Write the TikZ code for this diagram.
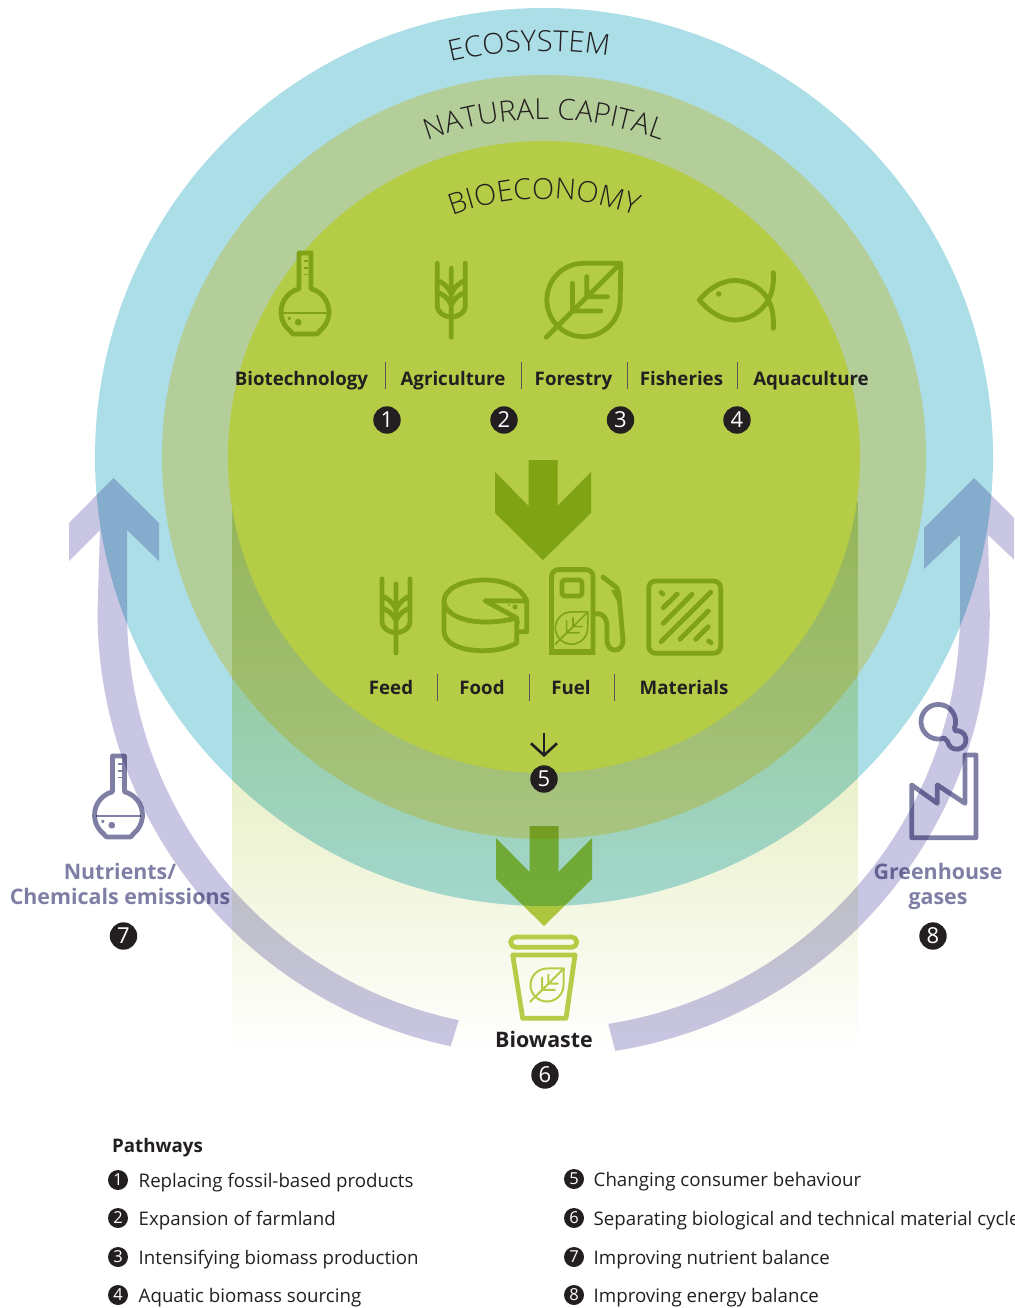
\documentclass[tikz,border=0pt]{standalone}
\usepackage{fontspec}
\setmainfont{Open Sans}
\newfontfamily\lightfont{Open Sans Light}
\usetikzlibrary{arrows.meta,decorations.text,fadings}

\definecolor{ecocol}{HTML}{ABDEE7}
\definecolor{natcol}{HTML}{B4CE9A}
\definecolor{biocol}{HTML}{B4CC46}
\definecolor{iconcol}{HTML}{7FA314}
\definecolor{bandcol}{HTML}{C9C6E3}
\definecolor{lavcol}{HTML}{7F7FA6}
\definecolor{inkcol}{HTML}{231F20}

\tikzfading[name=lowfade,top color=transparent!42,bottom color=transparent!100]

\tikzset{
	every pic/.style={yscale=-1},
	badge node/.style={shape=circle,fill=inkcol,text=white,inner sep=0pt,minimum size=27.4pt,font=\fontsize{22}{22}\selectfont},
	key node/.style={shape=circle,fill=inkcol,text=white,inner sep=0pt,minimum size=20pt,font=\fontsize{16.5}{16.5}\selectfont},
	sector node/.style={text=inkcol,inner sep=0pt,anchor=base,font=\fontsize{18.7}{23}\selectfont\bfseries},
	key text/.style={text=inkcol,inner sep=0pt,anchor=base west,font=\fontsize{18.7}{23}\selectfont},
	side text/.style={text=lavcol,inner sep=0pt,align=center,font=\fontsize{21.4}{25}\selectfont\bfseries},
	divider/.style={draw=inkcol!75,line width=.8pt},
	icon/.style={draw=iconcol,line width=4.8pt,line cap=round,line join=round},
	side icon/.style={draw=lavcol,line width=4.8pt,line cap=round,line join=round},
	ring text/.style={decorate,decoration={text along path,text align=center,text={#1}}},
	pics/flask/.style={code={
		\path[pic actions] (-6,0) -- (-6,35.8) arc[start angle=255.5,end angle=130,radius=24pt]
			-- (-12,81) -- (12,81) -- (15.4,77.4) arc[start angle=50,end angle=-75.5,radius=24pt]
			-- (6,0) -- cycle;
		\path[pic actions,line width=1.5pt,line cap=butt] (-22.5,60) -- (22.5,60)
			(-1,8) -- (3,8) (-1,15) -- (3,15) (-1,21.5) -- (3,21.5);
		\path[pic actions,line width=3.7pt] (-6.7,69.3) circle[radius=1.85pt];
		\path[pic actions,line width=1.7pt] (-15.7,65.3) circle[radius=.85pt];
	}},
	pics/wheat/.style={code={
		\path[pic actions] (0,0) -- (0,69)
			(-14,-5) -- (-14,37) .. controls (-14,45) and (-7,48) .. (0,49)
			(14,-5) -- (14,37) .. controls (14,45) and (7,48) .. (0,49)
			(-14,12) .. controls (-9,14) and (-3,18) .. (0,26)
			(14,12) .. controls (9,14) and (3,18) .. (0,26)
			(-14,24) .. controls (-8,26) and (-3,30) .. (0,37)
			(14,24) .. controls (8,26) and (3,30) .. (0,37);
	}},
	pics/leaf/.style={code={
		\path[pic actions] (37.3,-36.7) -- (0,-36.7) arc[start angle=270,end angle=90,radius=36.7pt]
			arc[start angle=90,end angle=0,radius=36.7pt] -- cycle
			(37.3,-36.7) -- (-37.3,37.3)
			(-11,-16.7) -- (-11,11) -- (17.3,11)
			(3.3,-23.3) -- (3.3,-3.3) -- (24,-3.3);
	}},
	pics/downarrow/.style={code={
		\fill[biocol,blend mode=multiply] (0,0) -- (-48,-47) -- (-48,-88) -- (-14.5,-54) -- (-14.5,-100)
			-- (14.5,-100) -- (14.5,-54) -- (48,-88) -- (48,-47) -- cycle;
	}},
}

\begin{document}
\begin{tikzpicture}[x=1pt,y=1pt,yscale=-1]
	\useasboundingbox (0,0) rectangle (1014,1308);
	\clip (0,0) rectangle (1014,1308);

	% rings
	\coordinate (centre) at (544,457);
	\fill[ecocol] (centre) circle[radius=449pt];
	\fill[natcol] (centre) circle[radius=382pt];
	\fill[biocol,blend mode=multiply,path fading=lowfade] (232,500) rectangle (858,1055);
	\fill[biocol] (centre) circle[radius=316pt];

	% side bands
	\fill[bandcol,blend mode=multiply] (113.5,478) -- (159,523) -- (159,561) -- (127,530) -- (127,612)
		arc[start angle=180,end angle=101.8,radius=417pt]
		-- ++(-8,26) arc[start angle=101.8,end angle=180,radius=444pt]
		-- (100,530) -- (69,561) -- (69,523) -- cycle;
	\fill[bandcol,blend mode=multiply] (974,478) -- (924,528) -- (924,569) -- (960,535) -- (960,612)
		arc[start angle=0,end angle=81,radius=417pt]
		-- ++(7,27) arc[start angle=81,end angle=0,radius=444pt]
		-- (988,535) -- (1024,569) -- (1024,528) -- cycle;

	% ring titles
	\begin{scope}[yscale=-1]
		\coordinate (textcentre) at (544,-457);
		\path[ring text={|\color{inkcol}\lightfont\fontsize{29}{29}\selectfont|ECOSYSTEM}]
			([shift={(122.1:406pt)}]textcentre) arc[start angle=122.1,end angle=62.1,radius=406pt];
		\path[ring text={|\color{inkcol}\lightfont\fontsize{29}{29}\selectfont|NATURAL CAPITAL}]
			([shift={(124.9:337.5pt)}]textcentre) arc[start angle=124.9,end angle=54.9,radius=337.5pt];
		\path[ring text={|\color{inkcol}\lightfont\fontsize{29}{29}\selectfont|BIOECONOMY}]
			([shift={(125:258pt)}]textcentre) arc[start angle=125,end angle=55,radius=258pt];
	\end{scope}

	% sector icons
	\pic[icon] at (305,253) {flask};
	\pic[icon] at (451.3,268.3) {wheat};
	\pic[icon] at (583.5,300) {leaf};
	\draw[icon] (699.3,300) .. controls (712,285) and (725,280.5) .. (735,280.5)
		.. controls (748,280.5) and (762,288) .. (768.3,300)
		.. controls (762,312) and (748,320) .. (735,320)
		.. controls (725,320) and (712,315) .. (699.3,300)
		(773.3,272.7) .. controls (774,285) and (772,293) .. (768.3,300)
		.. controls (772,307) and (774,316) .. (773.3,328.3);
	\fill[iconcol] (718.7,294) circle[radius=2.7pt];

	% sector labels
	\node[sector node] (bio) at (301.5,385.5) {Biotechnology};
	\node[sector node] (agr) at (453,385.5) {Agriculture};
	\node[sector node] (for) at (573.5,385.5) {Forestry};
	\node[sector node] (fis) at (681.5,385.5) {Fisheries};
	\node[sector node] (aqu) at (811,385.5) {Aquaculture};
	\foreach \x in {385,521,627,737}
		\draw[divider] (\x,362) -- (\x,389);

	\node[badge node] (n1) at (387,420) {1};
	\node[badge node] (n2) at (504,420) {2};
	\node[badge node] (n3) at (620.5,420) {3};
	\node[badge node] (n4) at (737,420) {4};

	\pic at (543,560) {downarrow};

	% product icons
	\pic[icon] at (396,584) {wheat};
	\draw[icon] (526.7,601) -- (485,600.7) -- (516.7,618)
		.. controls (505,621) and (495,622) .. (485,622)
		.. controls (460,622) and (444,612) .. (444,601)
		.. controls (444,590) and (460,580) .. (485,580)
		.. controls (505,580) and (522,588) .. (526.7,601)
		-- (526.7,631.7) -- (516.7,631.7)
		(516.7,618) -- (516.7,643)
		.. controls (508,648) and (497,650.7) .. (483,650.7)
		.. controls (460,650.7) and (444,643) .. (444,631) -- (444,601);
	\fill[iconcol] (515,607) circle[radius=2.5pt] (509,605) circle[radius=1pt] (518,622) circle[radius=2pt];
	\draw[icon,line join=miter] (558.7,569.6) -- (586,569.6) arc[start angle=-90,end angle=0,radius=7pt]
		-- (593,652.5) -- (551.5,652.5) -- (551.5,576.6) arc[start angle=180,end angle=270,radius=7pt] -- cycle;
	\draw[icon,line width=3pt] (551.5,650) -- (593,650);
	\draw[icon] (565,580) -- (579,580) arc[start angle=-90,end angle=0,radius=3pt] -- (582,593)
		arc[start angle=0,end angle=90,radius=3pt] -- (565,596) arc[start angle=90,end angle=180,radius=3pt]
		-- (562,583) arc[start angle=180,end angle=270,radius=3pt] -- cycle;
	\draw[icon] (594,614) .. controls (606,612) and (607,622) .. (607,628) -- (607,640)
		.. controls (607,648) and (612,650) .. (615,650)
		.. controls (620,650) and (623,646) .. (623,640) -- (619,595) -- (617,588) -- (603,577);
	\fill[iconcol] (611,590) -- (617,590) -- (618,603) -- cycle;
	\pic[icon,line width=1.6pt,scale=.44] at (571.5,628) {leaf};
	\draw[icon,rounded corners=7pt] (648.7,581) rectangle (720.7,653.3);
	\draw[icon] (661,592.5) -- (663,594) (663.3,607.7) -- (677.3,594) (663.3,623.3) -- (692,594.3)
		(661,641.7) -- (710.7,592.3) (680,639.3) -- (708.3,611) (695.7,639.3) -- (708.3,626.7)
		(708.7,641) -- (711,642.7);

	% product labels
	\node[sector node] (fee) at (391,694.5) {Feed};
	\node[sector node] (foo) at (482,694.5) {Food};
	\node[sector node] (fue) at (571,694.5) {Fuel};
	\node[sector node] (mat) at (684,694.5) {Materials};
	\foreach \x in {437,529,614}
		\draw[divider] (\x,674) -- (\x,701);

	\node[badge node] (n5) at (544,779) {5};
	\coordinate (behaviour) at (544,733);
	\draw[inkcol,line width=2.6pt,-{Straight Barb[length=12pt,width=26pt,line width=2.6pt]},shorten >=8pt] (behaviour) -- (n5);

	\pic at (544,926) {downarrow};

	% bin
	\draw[icon,draw=biocol,rounded corners=5pt] (510.7,937) rectangle (576.7,947.3);
	\draw[icon,draw=biocol] (512.7,955) -- (575,955) -- (566,1018.3) -- (522.7,1018.3) -- cycle;
	\pic[icon,draw=biocol,line width=2pt,scale=.45] at (547,985) {leaf};
	\node[sector node,font=\fontsize{21.4}{25}\selectfont\bfseries] (was) at (544,1047) {Biowaste};
	\node[badge node] (n6) at (545,1075) {6};

	% side labels
	\begin{scope}[blend mode=multiply]
		\pic[side icon] at (118.5,756) {flask};
		\draw[side icon] (911.7,785) -- (911.7,837.7) -- (976,837.7) -- (976,755) -- (965,755) -- (965,803.3)
			-- (937.3,785) -- (937.3,803.3) -- cycle
			(944.2,738) arc[start angle=70,end angle=380,radius=17.3pt]
			-- (955.1,730.8) arc[start angle=-100,end angle=170,radius=9.3pt] -- cycle;
		\node[side text] (nut) at (120,884) {Nutrients/\\Chemicals emissions};
		\node[side text] (ghg) at (938,886) {Greenhouse\\gases};
	\end{scope}
	\node[badge node] (n7) at (123.5,936) {7};
	\node[badge node] (n8) at (933,936) {8};

	% pathways
	\node[key text,font=\fontsize{18.7}{23}\selectfont\bfseries] (pathways) at (112,1152.5) {Pathways};
	\foreach \n/\y/\t in {1/1180/Replacing fossil-based products,2/1218/Expansion of farmland,3/1257/Intensifying biomass production,4/1295/Aquatic biomass sourcing} {
		\node[key node] (k\n) at (118,\y) {\n};
		\node[key text] (t\n) at (138.5,\y+7) {\t};
	}
	\foreach \n/\y/\t in {5/1179/Changing consumer behaviour,6/1218/Separating biological and technical material cycles,7/1257/Improving nutrient balance,8/1295/Improving energy balance} {
		\node[key node] (k\n) at (574,\y) {\n};
		\node[key text] (t\n) at (593.5,\y+7) {\t};
	}
\end{tikzpicture}
\end{document}
